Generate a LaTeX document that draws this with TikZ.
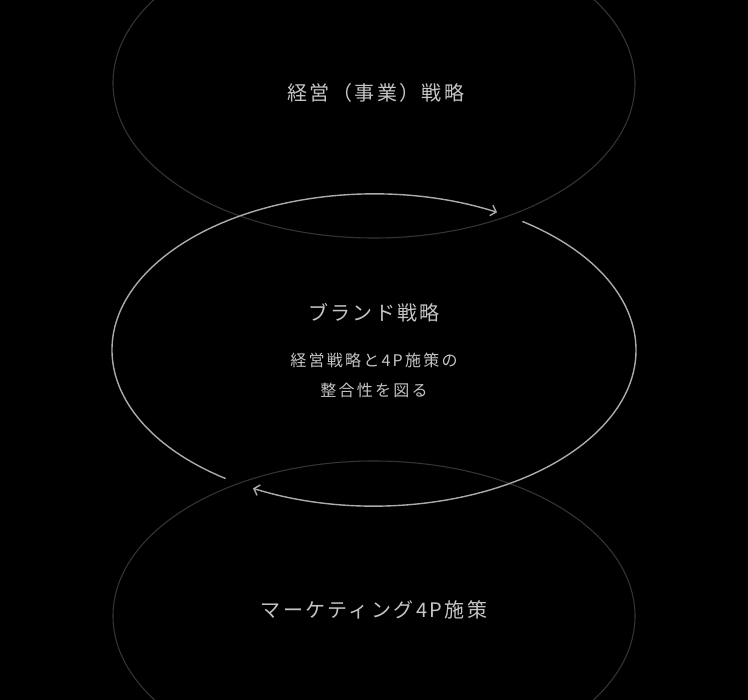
\documentclass[tikz,border=0pt]{standalone}
\usepackage{fontspec}
\newfontfamily\jp{Noto Sans CJK JP}
\usetikzlibrary{shapes.geometric,arrows.meta,calc}
\definecolor{outerline}{HTML}{333333}
\definecolor{midline}{HTML}{ABABAB}
\definecolor{txt}{HTML}{C4C4C4}
\tikzset{
  outerell/.style={ellipse, draw=outerline, line width=1.1pt, minimum width=522pt, minimum height=310pt, inner sep=0pt, outer sep=0pt},
  title/.style={text=txt, font=\jp\fontsize{20pt}{24pt}\selectfont\addfontfeature{LetterSpace=12}, inner sep=0pt},
  sub/.style={text=txt, font=\jp\fontsize{16pt}{30pt}\selectfont\addfontfeature{LetterSpace=14}, inner sep=0pt, align=center},
  cyc/.style={draw=midline, line width=1.4pt, -{Straight Barb[length=5pt,width=11pt,line width=1.4pt]}}
}
\begin{document}
\begin{tikzpicture}[x=1pt,y=-1pt]
\useasboundingbox[fill=black] (0,0) rectangle (748,700);
\node[outerell] (topell) at (374,83) {};
\node[outerell] (botell) at (374,616) {};
\coordinate (mc) at (374,350);
\node[title] (toptext) at (376,93) {経営（事業）戦略};
\node[title] (midtitle) at (374,313) {ブランド戦略};
\node[sub] (midsub) at (374,375) {経営戦略と4P施策の\\整合性を図る};
\node[title] (bottext) at (374,610) {マーケティング4P施策};
\draw[cyc] ($(mc)+(235.5:262pt and 156pt)$) arc[start angle=235.5, end angle=62, x radius=262pt, y radius=156pt];
\draw[cyc] ($(mc)+(55.5:262pt and 156pt)$) arc[start angle=55.5, end angle=-117.5, x radius=262pt, y radius=156pt];
\end{tikzpicture}
\end{document}
